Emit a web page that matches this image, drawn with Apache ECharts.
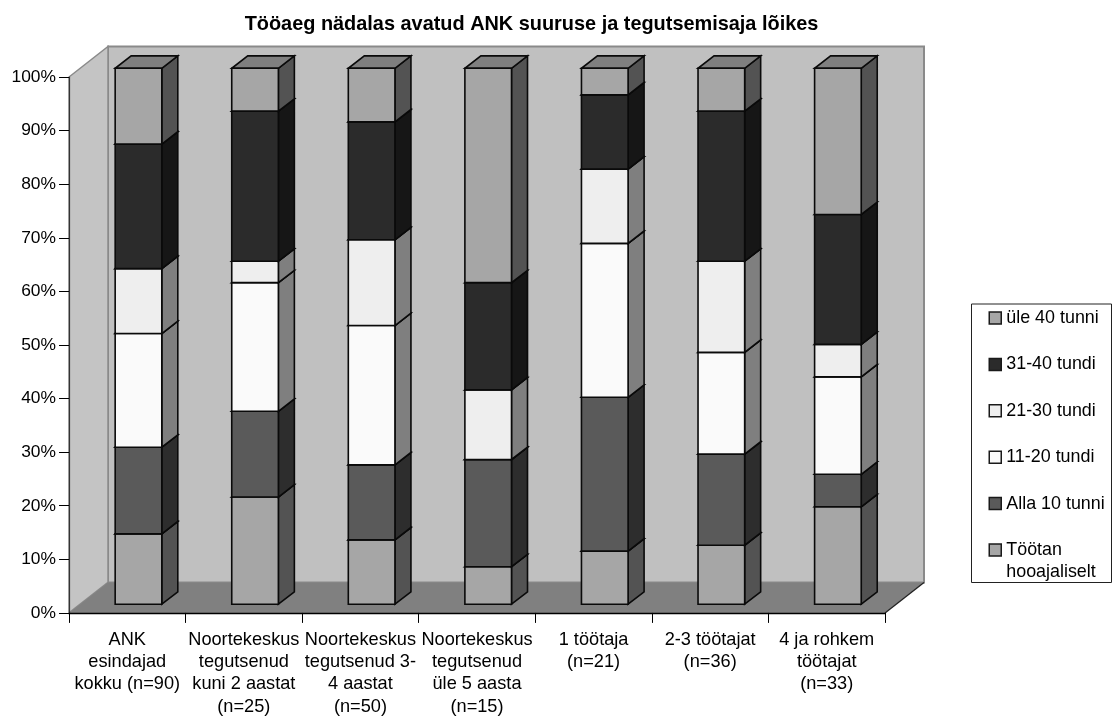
<!DOCTYPE html>
<html><head><meta charset="utf-8">
<style>html,body{margin:0;padding:0;background:#fff}#c{width:1112px;height:718px}</style>
<script src="https://cdn.jsdelivr.net/npm/echarts@6/dist/echarts.min.js"></script>
</head><body><div id="c"></div>
<script>
const categories = ["ANK\nesindajad\nkokku (n=90)","Noortekeskus\ntegutsenud\nkuni 2 aastat\n(n=25)","Noortekeskus\ntegutsenud 3-\n4 aastat\n(n=50)","Noortekeskus\ntegutsenud\nüle 5 aasta\n(n=15)","1 töötaja\n(n=21)","2-3 töötajat\n(n=36)","4 ja rohkem\ntöötajat\n(n=33)"];
const seasonal = [13,20,12,7,10,11,18];
const under10 = [16,16,14,20,29,17,6];
const h11to20 = [21,24,26,0,29,19,18];
const h21to30 = [12,4,16,13,14,17,6];
const h31to40 = [23,28,22,20,14,28,24];
const over40 = [14,8,10,40,5,8,27];
const seriesNames = ["Töötan\nhooajaliselt","Alla 10 tunni","11-20 tundi","21-30 tundi","31-40 tundi","üle 40 tunni"];
const seriesValues = [seasonal,under10,h11to20,h21to30,h31to40,over40];
const frontColors = ["#a6a6a6","#5a5a5a","#fafafa","#eeeeee","#2b2b2b","#a6a6a6"];
const sideColors = ["#535353","#2d2d2d","#7f7f7f","#7f7f7f","#161616","#535353"];
const topColors = ["#7f7f7f","#444444","#bbbbbb","#b3b3b3","#202020","#7f7f7f"];
const FONT = '"Liberation Sans", Arial, sans-serif';

// 3D projection constants (wall depth; bar placement inside that depth)
const WALL_DX = 39, WALL_DY = -30.5;
const BAR_DX = 11.2, BAR_DY = -8.7, BAR_DEPTH_X = 16, BAR_DEPTH_Y = -12.4, BAR_W = 0.4;

function renderWalls(params, api){
  const r = params.coordSys, x0=r.x, y0=r.y, x1=r.x+r.width, y1=r.y+r.height;
  const poly=(pts,fill,stroke,w)=>({type:'polygon',shape:{points:pts},style:{fill,stroke:stroke||null,lineWidth:w||0}});
  const back=[[x0+WALL_DX,y0+WALL_DY],[x1+WALL_DX,y0+WALL_DY],[x1+WALL_DX,y1+WALL_DY],[x0+WALL_DX,y1+WALL_DY]];
  return {type:'group',children:[
    poly(back,'#c0c0c0','#8a8a8a',2),
    poly([[x0,y0],[x0+WALL_DX,y0+WALL_DY],[x0+WALL_DX,y1+WALL_DY],[x0,y1]],'#c4c4c4','#8a8a8a',1.5),
    poly([[x0,y1],[x0+WALL_DX,y1+WALL_DY],[x1+WALL_DX,y1+WALL_DY],[x1,y1]],'#808080',null,0),
    {type:'polyline',shape:{points:[[x1,y1],[x1+WALL_DX,y1+WALL_DY]]},style:{fill:null,stroke:'#222',lineWidth:1.3}}
  ]};
}
function makeBarRenderer(s){
  return function(params, api){
    const i=api.value(0), lowV=api.value(1), highV=api.value(2);
    const band=api.size([1,0])[0], w=band*BAR_W;
    const a=api.coord([i,lowV]), b=api.coord([i,highV]);
    const l=a[0]+BAR_DX-w/2, r=l+w, yb=a[1]+BAR_DY, yt=b[1]+BAR_DY;
    const st=(fill)=>({fill,stroke:'#0a0a0a',lineWidth:1.6,lineJoin:'miter'});
    const dx=BAR_DEPTH_X, dy=BAR_DEPTH_Y;
    return {type:'group',children:[
      {type:'polygon',shape:{points:[[r,yb],[r+dx,yb+dy],[r+dx,yt+dy],[r,yt]]},style:st(sideColors[s])},
      {type:'polygon',shape:{points:[[l,yt],[r,yt],[r+dx,yt+dy],[l+dx,yt+dy]]},style:st(topColors[s])},
      {type:'polygon',shape:{points:[[l,yb],[r,yb],[r,yt],[l,yt]]},style:st(frontColors[s])}
    ]};
  };
}
// 100% stacked: each column is scaled by its own total
const totals = categories.map((_,i)=>seriesValues.reduce((t,arr)=>t+arr[i],0));
const running = categories.map(()=>0);
const barSeries = seriesNames.map((name,s)=>{
  const data = seriesValues[s].map((v,i)=>{const low=running[i];running[i]+=v;return [i,low/totals[i]*100,running[i]/totals[i]*100];});
  return {name,type:'custom',renderItem:makeBarRenderer(s),data,z:3,clip:false,silent:true,
    encode:{x:0,y:[1,2]},itemStyle:{color:frontColors[s]}};
});
const legendStyle={itemWidth:12,itemHeight:12,icon:'rect',orient:'vertical',selectedMode:false,padding:0,
  itemStyle:{borderColor:'#1a1a1a',borderWidth:1.5}};
const chart=echarts.init(document.getElementById('c'),null,{renderer:'canvas'});
chart.setOption({
  animation:false,
  color:frontColors,
  title:{text:'Tööaeg nädalas avatud ANK suuruse ja tegutsemisaja lõikes',left:526.5,top:9.5,textAlign:'center',
    textStyle:{fontFamily:FONT,fontSize:19.9,fontWeight:'bold',color:'#000'}},
  grid:{left:69,right:227,top:77,bottom:103,containLabel:false},
  xAxis:{type:'category',data:categories,z:5,
    axisLine:{show:true,lineStyle:{color:'#000',width:1.3}},
    axisTick:{show:true,length:10,alignWithLabel:false,lineStyle:{color:'#000',width:1}},
    axisLabel:{interval:0,margin:15.5,color:'#000',fontFamily:FONT,fontSize:18.2,lineHeight:22.4,align:'center',verticalAlign:'top',hideOverlap:false},
    splitLine:{show:false}},
  yAxis:{type:'value',min:0,max:100,interval:10,z:5,
    axisLine:{show:true,lineStyle:{color:'#333',width:1.2}},
    axisTick:{show:true,length:10,lineStyle:{color:'#000',width:1}},
    axisLabel:{margin:13,color:'#000',fontFamily:FONT,fontSize:17.4,padding:[2,0,0,0],formatter:'{value}%'},
    splitLine:{show:false}},
  legend:[
    Object.assign({},legendStyle,{left:988.5,top:308,itemGap:26.4,
      data:seriesNames.slice(1).reverse(),
      textStyle:{fontFamily:FONT,fontSize:17.9,color:'#000',lineHeight:20}}),
    Object.assign({},legendStyle,{left:988.5,top:517,
      data:[seriesNames[0]],
      formatter:n=>'\n'+n,
      textStyle:{fontFamily:FONT,fontSize:17.9,color:'#000',lineHeight:22}})
  ],
  graphic:[{type:'rect',shape:{x:971.5,y:304,width:140,height:278.5},style:{fill:null,stroke:'#222',lineWidth:1},silent:true,z:1}],
  series:[{type:'custom',name:'walls',silent:true,z:1,clip:false,data:[[0,0]],encode:{x:0,y:1},renderItem:renderWalls}].concat(barSeries)
});
</script></body></html>
